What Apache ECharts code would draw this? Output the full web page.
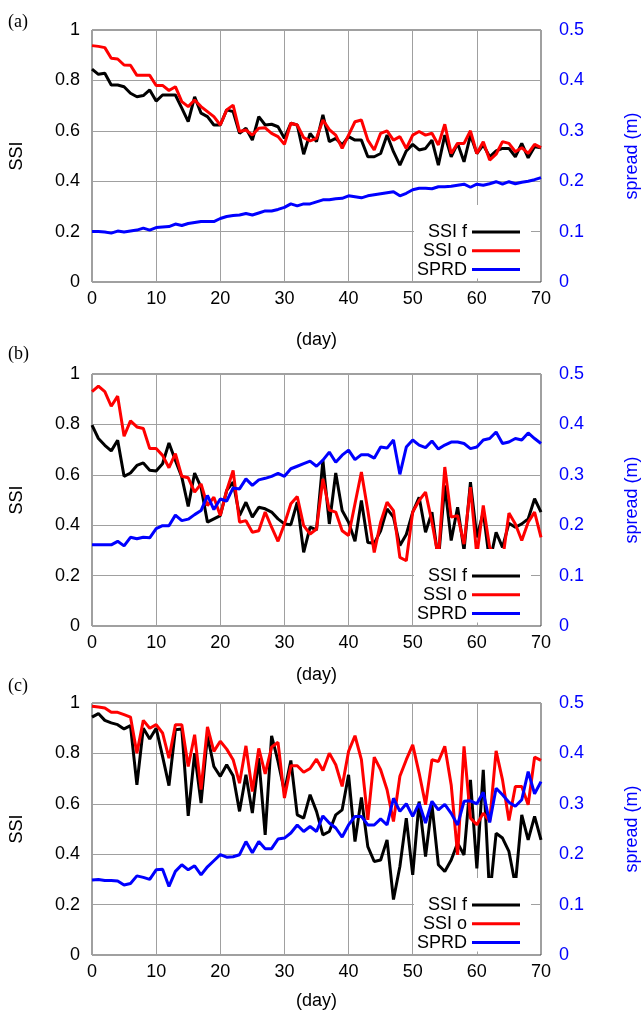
<!DOCTYPE html>
<html>
<head>
<meta charset="utf-8">
<script src="https://cdn.jsdelivr.net/npm/echarts@6/dist/echarts.min.js"></script>
<style>
  html, body { margin: 0; padding: 0; background: #fff; }
  #chart { width: 641px; height: 1011px; }
</style>
</head>
<body>
<div id="chart"></div>
<script>
// day index shared by all panels
var days = [];
for (var d = 0; d <= 70; d++) days.push(d);

// panel (a)
var ssiFA = [0.845,0.824,0.828,0.782,0.782,0.775,0.749,0.735,0.74,0.762,
  0.718,0.742,0.742,0.742,0.69,0.636,0.735,0.67,0.656,0.623,
  0.623,0.683,0.676,0.59,0.61,0.563,0.656,0.623,0.626,0.616,
  0.57,0.63,0.623,0.507,0.59,0.557,0.663,0.557,0.57,0.544,
  0.577,0.563,0.563,0.497,0.497,0.51,0.583,0.517,0.464,0.52,
  0.546,0.524,0.53,0.563,0.464,0.583,0.497,0.55,0.477,0.583,
  0.51,0.544,0.497,0.52,0.53,0.53,0.497,0.55,0.493,0.537,0.533];
var ssiOA = [0.938,0.935,0.93,0.888,0.885,0.861,0.86,0.82,0.82,0.82,
  0.78,0.78,0.76,0.775,0.716,0.696,0.722,0.696,0.676,0.656,
  0.623,0.683,0.702,0.597,0.603,0.583,0.61,0.612,0.59,0.577,
  0.546,0.63,0.623,0.573,0.56,0.57,0.643,0.605,0.583,0.53,
  0.583,0.636,0.643,0.563,0.524,0.59,0.6,0.563,0.577,0.53,
  0.583,0.597,0.583,0.59,0.544,0.626,0.51,0.55,0.55,0.6,
  0.51,0.557,0.484,0.507,0.557,0.55,0.517,0.533,0.51,0.546,0.533];
var sprdA = [0.1,0.1,0.099,0.097,0.101,0.099,0.101,0.103,0.107,0.103,
  0.108,0.109,0.11,0.115,0.112,0.116,0.118,0.12,0.12,0.12,
  0.126,0.13,0.132,0.133,0.136,0.133,0.137,0.141,0.141,0.144,
  0.148,0.155,0.151,0.155,0.155,0.159,0.163,0.163,0.165,0.166,
  0.171,0.169,0.167,0.171,0.173,0.175,0.177,0.179,0.171,0.176,
  0.183,0.186,0.186,0.185,0.189,0.189,0.19,0.192,0.194,0.188,
  0.194,0.192,0.195,0.199,0.194,0.199,0.195,0.198,0.2,0.203,0.207];

// panel (b)
var ssiFB = [0.797,0.744,0.717,0.695,0.737,0.594,0.607,0.637,0.647,0.618,
  0.615,0.644,0.726,0.657,0.591,0.474,0.607,0.551,0.412,0.425,
  0.438,0.538,0.571,0.438,0.491,0.432,0.471,0.465,0.452,0.425,
  0.405,0.402,0.491,0.292,0.392,0.381,0.657,0.405,0.607,0.458,
  0.412,0.336,0.498,0.331,0.328,0.378,0.465,0.432,0.319,0.363,
  0.452,0.511,0.372,0.452,0.259,0.558,0.339,0.471,0.299,0.571,
  0.352,0.452,0.252,0.372,0.312,0.408,0.392,0.405,0.425,0.505,0.452];
var ssiOB = [0.93,0.952,0.93,0.872,0.912,0.753,0.814,0.79,0.784,0.704,
  0.704,0.677,0.628,0.684,0.594,0.588,0.531,0.564,0.478,0.511,
  0.438,0.538,0.617,0.412,0.418,0.372,0.378,0.452,0.392,0.336,
  0.405,0.485,0.514,0.398,0.365,0.385,0.584,0.46,0.452,0.378,
  0.359,0.485,0.611,0.458,0.292,0.412,0.491,0.458,0.272,0.259,
  0.452,0.498,0.531,0.412,0.272,0.631,0.432,0.438,0.325,0.551,
  0.279,0.478,0.312,0.279,0.259,0.448,0.405,0.339,0.412,0.452,0.352];
var sprdB = [0.161,0.161,0.161,0.161,0.168,0.159,0.176,0.173,0.176,0.175,
  0.193,0.199,0.199,0.22,0.209,0.212,0.221,0.229,0.259,0.231,
  0.252,0.248,0.274,0.272,0.292,0.279,0.29,0.293,0.297,0.303,
  0.297,0.312,0.317,0.322,0.327,0.317,0.329,0.345,0.325,0.339,
  0.349,0.33,0.34,0.34,0.333,0.355,0.353,0.369,0.301,0.355,
  0.369,0.359,0.354,0.367,0.351,0.359,0.365,0.365,0.362,0.352,
  0.355,0.369,0.372,0.385,0.362,0.365,0.372,0.369,0.383,0.372,0.362];

// panel (c)
var ssiFC = [0.944,0.958,0.931,0.921,0.914,0.897,0.91,0.675,0.9,0.857,
  0.9,0.788,0.672,0.894,0.897,0.552,0.801,0.603,0.87,0.748,
  0.709,0.755,0.711,0.57,0.715,0.563,0.781,0.477,0.87,0.768,
  0.649,0.772,0.556,0.543,0.636,0.57,0.477,0.49,0.556,0.576,
  0.715,0.45,0.625,0.43,0.371,0.377,0.457,0.22,0.351,0.543,
  0.318,0.609,0.391,0.596,0.358,0.331,0.377,0.444,0.397,0.695,
  0.344,0.735,0.232,0.483,0.464,0.411,0.278,0.556,0.457,0.55,0.457];
var ssiOC = [0.987,0.984,0.98,0.963,0.963,0.954,0.944,0.801,0.931,0.9,
  0.914,0.881,0.781,0.914,0.914,0.748,0.874,0.656,0.905,0.808,
  0.848,0.817,0.775,0.682,0.83,0.649,0.82,0.719,0.825,0.844,
  0.623,0.751,0.751,0.725,0.74,0.777,0.732,0.801,0.755,0.669,
  0.808,0.87,0.775,0.536,0.785,0.735,0.656,0.53,0.709,0.775,
  0.834,0.722,0.596,0.775,0.768,0.828,0.675,0.397,0.828,0.543,
  0.517,0.563,0.53,0.81,0.695,0.534,0.669,0.669,0.596,0.785,0.772];
var sprdC = [0.149,0.15,0.148,0.148,0.147,0.139,0.142,0.157,0.154,0.15,
  0.169,0.17,0.136,0.166,0.179,0.169,0.177,0.159,0.175,0.187,
  0.199,0.194,0.195,0.199,0.225,0.203,0.225,0.211,0.211,0.23,
  0.232,0.242,0.258,0.245,0.255,0.245,0.276,0.262,0.252,0.234,
  0.258,0.275,0.275,0.258,0.258,0.27,0.258,0.311,0.285,0.3,
  0.275,0.301,0.262,0.305,0.288,0.299,0.281,0.258,0.305,0.306,
  0.3,0.323,0.263,0.331,0.318,0.303,0.295,0.308,0.364,0.32,0.344];

var panelLabels = ["(a)", "(b)", "(c)"];
var seriesNames = ["SSI f", "SSI o", "SPRD"];
var ssiTicks = [0, 0.2, 0.4, 0.6, 0.8, 1];
var sprdTicks = [0, 0.1, 0.2, 0.3, 0.4, 0.5];

var panels = [
  { f: ssiFA, o: ssiOA, s: sprdA },
  { f: ssiFB, o: ssiOB, s: sprdB },
  { f: ssiFC, o: ssiOC, s: sprdC }
];

var tops = [30, 374, 703];
var labelY = [13, 345, 677];
var dayGap = [49, 40, 37];
var font = "Liberation Sans";
var gridColor = "#a0a0a0";

function pairs(vals) {
  return days.map(function (d, i) { return [d, vals[i]]; });
}

var grid = [], xAxis = [], yAxis = [], series = [], legend = [], graphic = [];

panels.forEach(function (p, i) {
  grid.push({
    left: 92, right: 100, top: tops[i], height: 252,
    outerBoundsMode: "none", containLabel: false,
    show: true, borderColor: "#404040", borderWidth: 1
  });
  xAxis.push({
    type: "value", gridIndex: i, min: 0, max: 70, interval: 10,
    name: "(day)", nameLocation: "middle", nameGap: dayGap[i],
    nameTextStyle: { fontFamily: font, fontSize: 18, color: "#000" },
    axisLine: { show: false },
    axisTick: { inside: true, length: 5, lineStyle: { color: gridColor } },
    axisLabel: { margin: 8, fontFamily: font, fontSize: 18, color: "#000" },
    splitLine: { lineStyle: { color: gridColor, width: 1 } }
  });
  yAxis.push({
    type: "value", gridIndex: i, min: 0, max: 1, interval: 0.2, position: "left",
    name: "SSI", nameLocation: "middle", nameGap: 66,
    nameTextStyle: { fontFamily: font, fontSize: 18, color: "#000" },
    axisLine: { show: false },
    axisTick: { show: false },
    axisLabel: {
      margin: 12, fontFamily: font, fontSize: 18, color: "#000",
      formatter: function (v) { return ssiTicks.indexOf(+v.toFixed(1)) >= 0 ? String(+v.toFixed(1)) : ""; }
    },
    splitLine: { lineStyle: { color: gridColor, width: 1 } }
  });
  yAxis.push({
    type: "value", gridIndex: i, min: 0, max: 0.5, interval: 0.1, position: "right",
    name: "spread (m)", nameLocation: "middle", nameGap: 82,
    nameTextStyle: { fontFamily: font, fontSize: 18, color: "#0000ff" },
    axisLine: { show: false },
    axisTick: { inside: true, length: 5, lineStyle: { color: gridColor } },
    axisLabel: {
      margin: 18, fontFamily: font, fontSize: 18, color: "#0000ff",
      formatter: function (v) { return sprdTicks.indexOf(+v.toFixed(1)) >= 0 ? String(+v.toFixed(1)) : ""; }
    },
    splitLine: { show: false }
  });

  var cols = ["#000000", "#ff0000", "#0000ff"];
  var vals = [p.f, p.o, p.s];
  vals.forEach(function (v, k) {
    series.push({
      name: seriesNames[k], type: "line",
      xAxisIndex: i, yAxisIndex: k === 2 ? 2 * i + 1 : 2 * i,
      data: pairs(v), showSymbol: false, symbol: "none",
      color: cols[k],
      lineStyle: { color: cols[k], width: 3 },
      z: 2 + k
    });
  });

  legend.push({
    data: seriesNames, orient: "vertical", align: "right",
    right: 110, top: tops[i] + 175,
    backgroundColor: "#ffffff",
    padding: [18, 11, 0, 3],
    itemGap: 0.8, itemWidth: 48, itemHeight: 3, icon: "rect",
    selectedMode: false,
    textStyle: { fontFamily: font, fontSize: 18, lineHeight: 18, color: "#000" }
  });

  graphic.push({
    type: "text", left: 8, top: labelY[i],
    style: { text: panelLabels[i], font: '18px "Liberation Serif"', fill: "#000" }
  });
});

var myChart = echarts.init(document.getElementById("chart"));
myChart.setOption({
  animation: false,
  backgroundColor: "#fff",
  grid: grid,
  xAxis: xAxis,
  yAxis: yAxis,
  legend: legend,
  graphic: graphic,
  series: series
});
</script>
</body>
</html>
